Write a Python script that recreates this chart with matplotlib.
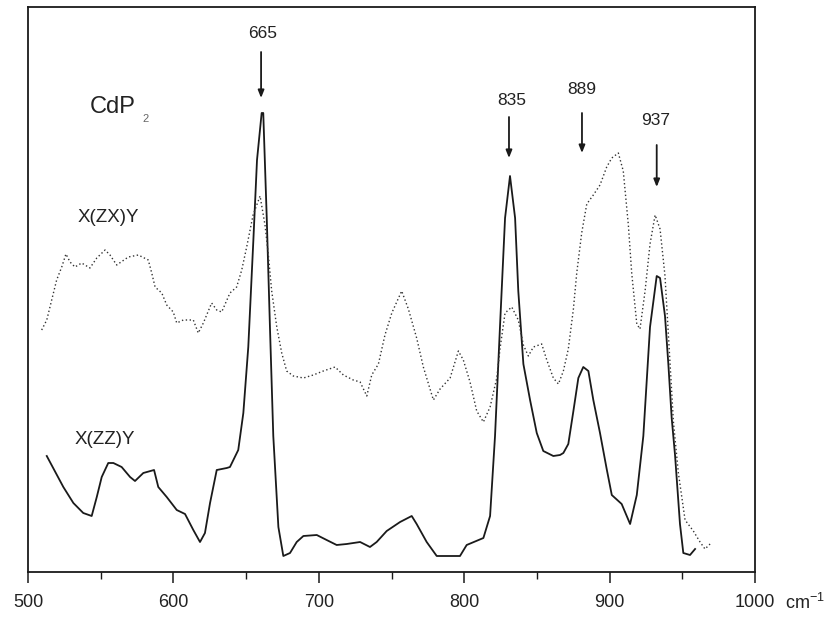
import matplotlib
matplotlib.use("Agg")
import matplotlib.pyplot as plt

plt.rcParams["font.family"] = ["Liberation Sans", "DejaVu Sans"]
plt.rcParams["mathtext.default"] = "regular"

# X(ZZ)Y spectrum (solid), wavenumber in cm-1, intensity in arbitrary units
zz_wavenumber = [512.9, 524.3, 531.2, 538.0, 543.8, 547.3, 550.7, 555.2, 558.7, 564.4,
                 570.2, 573.6, 579.3, 586.7, 589.6, 595.4, 602.3, 608.0, 613.7, 618.3,
                 621.7, 625.2, 629.8, 636.7, 638.9, 644.6, 648.1, 651.5, 655.0, 657.5,
                 660.7, 661.8, 664.2, 666.4, 668.7, 672.2, 675.6, 680.2, 684.8, 689.4,
                 698.6, 705.4, 712.3, 719.2, 728.4, 735.2, 739.8, 746.7, 755.9, 763.9,
                 767.3, 774.2, 781.1, 797.1, 801.7, 813.2, 817.8, 821.2, 824.6, 828.1,
                 831.5, 835.0, 837.2, 840.7, 845.3, 849.9, 854.4, 861.3, 865.9, 868.2,
                 871.6, 875.1, 878.5, 881.9, 885.4, 888.8, 893.4, 898.0, 901.5, 908.3,
                 914.1, 918.7, 923.2, 927.8, 932.4, 934.7, 938.1, 940.4, 942.7, 945.0,
                 948.4, 950.7, 955.3, 958.8]
zz_intensity = [116, 85, 69, 59, 56, 75, 95, 109, 109, 105,
                95, 91, 99, 102, 85, 75, 62, 58, 42, 30,
                39, 69, 102, 104, 105, 122, 159, 225, 332, 412,
                459, 459, 354, 245, 136, 45, 16, 19, 30, 36,
                37, 32, 27, 28, 30, 25, 30, 41, 50, 56,
                48, 30, 16, 16, 27, 34, 56, 136, 245, 354,
                396, 354, 281, 208, 172, 139, 121, 116, 117, 119,
                128, 161, 194, 205, 201, 172, 139, 103, 77, 68,
                48, 77, 136, 245, 296, 294, 256, 208, 154, 117,
                48, 19, 17, 23]

# X(ZX)Y spectrum (dotted)
zx_wavenumber = [509.4, 512.9, 516.3, 519.7, 523.2, 526.1, 528.9, 532.3, 536.9, 542.6,
                 547.3, 553.0, 556.4, 561.0, 569.0, 575.9, 582.7, 585.1, 587.4, 592.0,
                 595.4, 599.9, 602.3, 606.8, 613.7, 617.1, 620.6, 626.3, 629.8, 633.2,
                 638.9, 643.5, 647.0, 650.4, 654.8, 659.6, 663.0, 665.3, 667.6, 671.1,
                 674.5, 677.9, 682.5, 689.4, 696.2, 703.1, 711.2, 716.9, 723.7, 728.4,
                 733.0, 736.4, 741.0, 745.5, 750.2, 757.0, 761.6, 767.3, 771.9, 778.8,
                 783.4, 790.3, 796.0, 799.4, 804.0, 808.6, 813.2, 817.8, 822.4, 824.6,
                 828.1, 832.7, 837.2, 840.7, 844.1, 847.6, 853.3, 856.8, 861.3, 864.8,
                 868.2, 871.6, 875.1, 877.4, 880.8, 884.3, 888.8, 893.4, 898.0, 901.5,
                 906.0, 909.4, 912.9, 915.2, 918.7, 920.9, 924.4, 927.8, 931.3, 934.7,
                 938.1, 941.6, 943.9, 947.3, 951.9, 957.6, 962.2, 965.6, 969.1]
zx_intensity = [242, 252, 272, 292, 305, 318, 310, 305, 309, 304,
                314, 322, 317, 307, 315, 317, 312, 299, 285, 279,
                267, 260, 249, 252, 252, 239, 249, 269, 262, 260,
                279, 285, 302, 325, 357, 376, 347, 317, 281, 245,
                219, 201, 196, 194, 197, 201, 205, 197, 192, 190,
                176, 197, 208, 237, 259, 281, 263, 234, 205, 172,
                183, 194, 221, 212, 190, 161, 150, 165, 194, 223,
                259, 265, 252, 227, 216, 225, 228, 212, 194, 188,
                201, 223, 263, 299, 339, 368, 377, 387, 405, 414,
                419, 401, 347, 299, 248, 243, 281, 328, 357, 343,
                296, 208, 150, 99, 52, 41, 30, 23, 28]

peak_labels = ["665", "835", "889", "937"]
peak_text_x = [661.6, 832.9, 881.0, 931.9]
peak_text_y = [534, 467, 478, 447]
arrow_x = [660.3, 830.8, 881.0, 932.4]
arrow_tail = [520, 455, 459, 427]
arrow_tip = [474, 414, 419, 385]

tick_values = [500, 600, 700, 800, 900, 1000]
tick_labels = ["500", "600", "700", "800", "900", "1000"]

ink = "#1a1a1a"
fig = plt.figure(figsize=(8.32, 6.19), dpi=100)
ax = fig.add_axes([28 / 832, 47 / 619, 727 / 832, 565 / 619])

ax.plot(zz_wavenumber, zz_intensity, color=ink, lw=1.3)
ax.plot(zx_wavenumber, zx_intensity, color="#333333", lw=1.0, linestyle=(0, (1, 1.8)))

for lab, tx, ty, axx, a0, a1 in zip(peak_labels, peak_text_x, peak_text_y,
                                    arrow_x, arrow_tail, arrow_tip):
    ax.text(tx, ty, lab, ha="center", va="baseline", fontsize=12.5, color="#222222")
    ax.annotate("", xy=(axx, a1), xytext=(axx, a0),
                arrowprops=dict(arrowstyle="-|>,head_length=0.45,head_width=0.18",
                                color=ink, lw=1.3, shrinkA=0, shrinkB=0))

ax.text(542.6, 459, "CdP", ha="left", va="baseline", fontsize=17, color="#222222")
ax.text(578.4, 450, "2", ha="left", va="baseline", fontsize=8, color="#666666")
ax.text(534.4, 350, "X(ZX)Y", ha="left", va="baseline", fontsize=13.5, color="#222222")
ax.text(532.3, 128, "X(ZZ)Y", ha="left", va="baseline", fontsize=13.5, color="#222222")

ax.set_xlim(500, 1000)
ax.set_ylim(0, 565)
ax.set_yticks([])
ax.set_xticks(tick_values)
ax.set_xticklabels(tick_labels)
ax.set_xticks([550, 650, 750, 850, 950], minor=True)
ax.tick_params(axis="x", which="major", direction="out", length=8, width=1.1,
               pad=8, labelsize=13, labelcolor="#222222", color=ink)
ax.tick_params(axis="x", which="minor", direction="out", length=5, width=1.0, color=ink)
for s in ax.spines.values():
    s.set_linewidth(1.3)
    s.set_color(ink)

ax.text(1020.7, -0.0655, "cm$^{-1}$", transform=ax.get_xaxis_transform(),
        ha="left", va="baseline", fontsize=13, color="#222222", clip_on=False)

fig.savefig("out.png", dpi=100)
